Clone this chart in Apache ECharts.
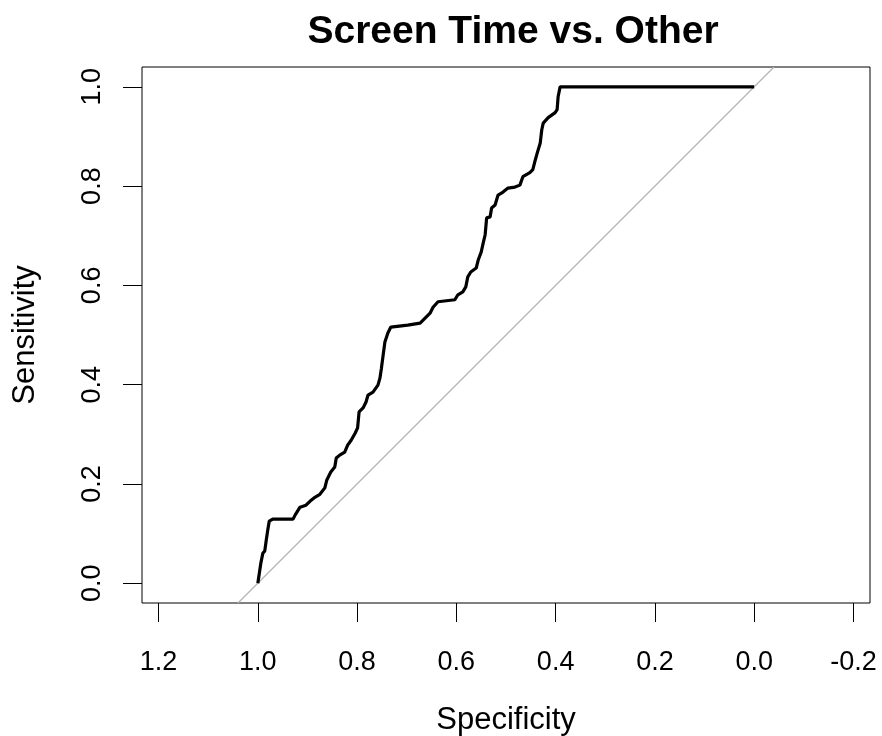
<!DOCTYPE html>
<html>
<head>
<meta charset="utf-8">
<script src="https://cdn.jsdelivr.net/npm/echarts@6/dist/echarts.min.js"></script>
<style>
html,body{margin:0;padding:0;background:#fff;}
#chart{width:882px;height:736px;}
</style>
</head>
<body>
<div id="chart"></div>
<script>
const titleText = "Screen Time vs. Other";
const xName = "Specificity";
const yName = "Sensitivity";
const xTicks = [1.2, 1.0, 0.8, 0.6, 0.4, 0.2, 0.0, -0.2];
const yTicks = [0.0, 0.2, 0.4, 0.6, 0.8, 1.0];
const specificity = [1.0, 0.994, 0.990, 0.986, 0.983, 0.980, 0.977, 0.970, 0.929, 0.925, 0.915, 0.903, 0.895, 0.885, 0.875, 0.865, 0.861, 0.853, 0.845, 0.842, 0.835, 0.825, 0.819, 0.812, 0.804, 0.799, 0.796, 0.788, 0.782, 0.778, 0.768, 0.758, 0.754, 0.751, 0.748, 0.744, 0.738, 0.732, 0.698, 0.673, 0.663, 0.653, 0.647, 0.637, 0.603, 0.597, 0.587, 0.581, 0.577, 0.571, 0.560, 0.556, 0.550, 0.546, 0.542, 0.539, 0.532, 0.529, 0.522, 0.516, 0.506, 0.496, 0.482, 0.472, 0.466, 0.452, 0.446, 0.442, 0.437, 0.431, 0.428, 0.425, 0.415, 0.401, 0.397, 0.395, 0.391, 0.0];
const sensitivity = [0.0, 0.040, 0.060, 0.065, 0.087, 0.107, 0.125, 0.129, 0.129, 0.137, 0.153, 0.157, 0.165, 0.173, 0.179, 0.192, 0.208, 0.224, 0.234, 0.252, 0.258, 0.264, 0.278, 0.288, 0.302, 0.313, 0.345, 0.353, 0.365, 0.379, 0.385, 0.399, 0.413, 0.433, 0.456, 0.486, 0.504, 0.516, 0.520, 0.524, 0.534, 0.544, 0.556, 0.567, 0.571, 0.581, 0.587, 0.597, 0.617, 0.627, 0.635, 0.651, 0.667, 0.685, 0.702, 0.736, 0.738, 0.756, 0.762, 0.782, 0.788, 0.796, 0.798, 0.802, 0.819, 0.827, 0.833, 0.849, 0.867, 0.887, 0.913, 0.927, 0.938, 0.948, 0.954, 0.980, 1.0, 1.0];
const diagonalSpec = [1.04, -0.04];
const diagonalSens = [-0.04, 1.04];

const FONT = "'Liberation Sans', Arial, Helvetica, sans-serif";
const rocData = specificity.map((s, i) => [s, sensitivity[i]]);
const diagData = diagonalSpec.map((s, i) => [s, diagonalSens[i]]);

const chart = echarts.init(document.getElementById('chart'), null, {renderer: 'canvas'});
chart.setOption({
  animation: false,
  backgroundColor: '#ffffff',
  title: {
    text: titleText,
    left: 508,
    textAlign: 'center',
    top: 8,
    textStyle: {fontFamily: FONT, fontSize: 39, fontWeight: 'bold', color: '#000'}
  },
  grid: {
    left: 142, right: 12, top: 67, bottom: 133,
    containLabel: false,
    outerBoundsMode: 'none',
    show: true, borderColor: '#000', borderWidth: 1, backgroundColor: 'transparent'
  },
  xAxis: {
    type: 'value',
    inverse: true,
    min: -0.2334,
    max: 1.2334,
    name: xName,
    nameLocation: 'middle',
    nameGap: 102,
    nameTextStyle: {fontFamily: FONT, fontSize: 31, color: '#000'},
    axisLine: {show: false, onZero: false},
    axisTick: {show: true, length: 19, lineStyle: {color: '#000', width: 1}, customValues: xTicks},
    axisLabel: {
      show: true, margin: 46, fontFamily: FONT, fontSize: 27, color: '#000',
      customValues: xTicks,
      formatter: v => Number(v).toFixed(1)
    },
    splitLine: {show: false}
  },
  yAxis: {
    type: 'value',
    min: -0.04,
    max: 1.04,
    name: yName,
    nameLocation: 'middle',
    nameGap: 101,
    nameRotate: 90,
    nameTextStyle: {fontFamily: FONT, fontSize: 31, color: '#000'},
    axisLine: {show: false, onZero: false},
    axisTick: {show: true, length: 19, lineStyle: {color: '#000', width: 1}, customValues: yTicks},
    axisLabel: {
      show: true, margin: 36, rotate: 90, fontFamily: FONT, fontSize: 27, color: '#000',
      customValues: yTicks,
      formatter: v => Number(v).toFixed(1)
    },
    splitLine: {show: false}
  },
  series: [
    {
      type: 'line',
      data: diagData,
      showSymbol: false,
      symbol: 'none',
      lineStyle: {color: '#B4B4B4', width: 1.2},
      silent: true,
      z: 1
    },
    {
      type: 'line',
      data: rocData,
      showSymbol: false,
      symbol: 'none',
      lineStyle: {color: '#000', width: 3.2},
      silent: true,
      z: 2
    }
  ]
});
</script>
</body>
</html>
